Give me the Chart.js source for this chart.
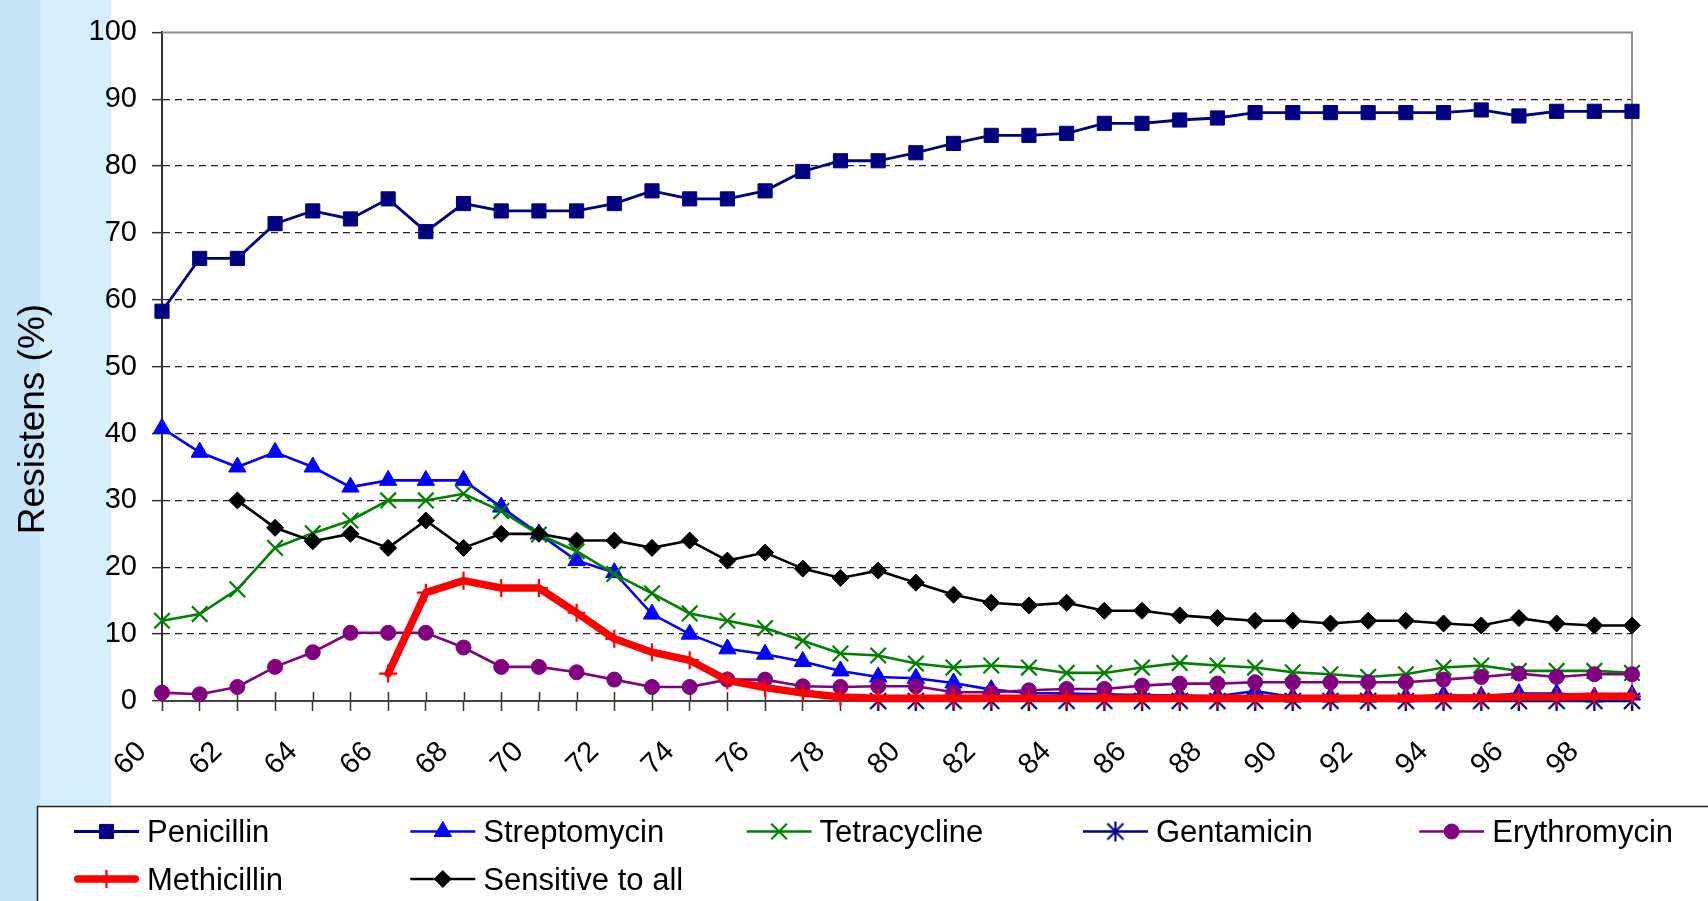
<!DOCTYPE html>
<html>
<head>
<meta charset="utf-8">
<title>Resistens</title>
<script src="https://cdn.jsdelivr.net/npm/chart.js@4/dist/chart.umd.min.js"></script>
<style>
  html, body { margin: 0; padding: 0; }
  body {
    width: 1708px;
    height: 901px;
    overflow: hidden;
    background: linear-gradient(to right, #c6e4f8 0, #c6e4f8 40px, #d7effb 40px, #d7effb 111px, #ffffff 111px);
  }
  canvas { display: block; }
</style>
</head>
<body>
<canvas id="resistChart" width="1708" height="901"></canvas>
<script>
const years = ['60', '61', '62', '63', '64', '65', '66', '67', '68', '69',
  '70', '71', '72', '73', '74', '75', '76', '77', '78', '79',
  '80', '81', '82', '83', '84', '85', '86', '87', '88', '89',
  '90', '91', '92', '93', '94', '95', '96', '97', '98', '99'];

const penicillin = [58.3, 66.2, 66.2, 71.4, 73.3, 72.1, 75.1, 70.2, 74.4, 73.3,
  73.3, 73.3, 74.4, 76.3, 75.1, 75.1, 76.3, 79.2, 80.8, 80.8,
  82.0, 83.4, 84.6, 84.6, 84.9, 86.4, 86.4, 86.9, 87.2, 88.0,
  88.0, 88.0, 88.0, 88.0, 88.0, 88.4, 87.5, 88.2, 88.2, 88.2];

const streptomycin = [40.8, 37.2, 35.0, 37.2, 35.0, 32.0, 33.0, 33.0, 33.0, 29.0,
  25.0, 21.0, 19.2, 13.0, 10.0, 7.8, 7.0, 5.9, 4.5, 3.6,
  3.4, 2.7, 1.7, 1.2, 1.1, 1.0, 0.9, 0.8, 0.7, 1.5,
  0.6, 0.6, 0.6, 0.6, 0.9, 0.7, 1.1, 1.1, 0.6, 0.9];

const tetracycline = [12.0, 13.0, 16.7, 22.9, 25.1, 27.0, 30.0, 30.0, 31.0, 28.4,
  24.9, 22.4, 19.0, 16.1, 13.1, 12.0, 10.9, 9.0, 7.1, 6.8,
  5.6, 5.0, 5.3, 5.0, 4.2, 4.2, 5.0, 5.7, 5.3, 5.0,
  4.3, 4.0, 3.6, 4.0, 5.0, 5.3, 4.5, 4.5, 4.5, 4.2];

const gentamicin = [null, null, null, null, null, null, null, null, null, null,
  null, null, null, null, null, null, null, null, null, 0,
  0, 0, 0, 0, 0, 0, 0, 0, 0, 0,
  0, 0, 0, 0, 0, 0, 0, 0, 0, 0];

const erythromycin = [1.25, 1.0, 2.1, 5.1, 7.3, 10.2, 10.2, 10.2, 8.0, 5.1,
  5.1, 4.3, 3.2, 2.1, 2.1, 3.2, 3.2, 2.2, 2.1, 2.2,
  2.2, 1.3, 1.3, 1.6, 1.8, 1.8, 2.3, 2.6, 2.6, 2.8,
  2.8, 2.8, 2.8, 2.8, 3.2, 3.6, 4.1, 3.6, 4.0, 4.0];

const methicillin = [null, null, null, null, null, null, 4.1, 16.2, 18.0, 16.9,
  16.9, 13.2, 9.3, 7.3, 6.1, 3.1, 2.0, 1.2, 0.6, 0.4,
  0.4, 0.4, 0.4, 0.4, 0.4, 0.4, 0.4, 0.4, 0.4, 0.4,
  0.4, 0.4, 0.4, 0.4, 0.4, 0.5, 0.6, 0.6, 0.7, 0.7];

const sensitive = [null, null, 30.0, 25.9, 23.9, 25.0, 22.9, 27.0, 22.9, 25.0,
  25.0, 24.0, 24.0, 22.9, 24.0, 21.0, 22.2, 19.8, 18.4, 19.5,
  17.7, 15.9, 14.7, 14.3, 14.7, 13.5, 13.5, 12.8, 12.4, 12.0,
  12.0, 11.6, 12.0, 12.0, 11.6, 11.3, 12.4, 11.6, 11.3, 11.3];

const yTicks = [0, 10, 20, 30, 40, 50, 60, 70, 80, 90, 100];
const yTitle = 'Resistens (%)';
const fontFamily = '"Liberation Sans", Arial, sans-serif';

// Excel style "star": an X with a vertical bar
function makeStar(color) {
    const c = document.createElement('canvas');
    c.width = 22;
    c.height = 22;
    const g = c.getContext('2d');
    g.strokeStyle = color;
    g.lineWidth = 2.2;
    g.beginPath();
    g.moveTo(3, 3); g.lineTo(19, 19);
    g.moveTo(19, 3); g.lineTo(3, 19);
    g.moveTo(11, 1); g.lineTo(11, 21);
    g.stroke();
    return c;
}

function series(label, data, color, style, radius, lineWidth, pointWidth, order) {
    return {
        label: label,
        data: data,
        borderColor: color,
        backgroundColor: color,
        borderWidth: lineWidth,
        pointStyle: style,
        pointRadius: radius,
        pointBackgroundColor: color,
        pointBorderColor: color,
        pointBorderWidth: pointWidth,
        pointHoverRadius: radius,
        tension: 0,
        clip: false,
        order: order
    };
}

const datasets = [
    series('Penicillin', penicillin, '#000080', 'rect', 10, 2.8, 1, 10),
    series('Streptomycin', streptomycin, '#0000ff', 'triangle', 10, 2.6, 1, 9),
    series('Tetracycline', tetracycline, '#008000', 'crossRot', 11, 2.6, 2.2, 8),
    series('Gentamicin', gentamicin, '#000080', makeStar('#000080'), 10, 2.6, 2, 7),
    series('Erythromycin', erythromycin, '#800080', 'circle', 7.5, 2.6, 1, 6),
    series('Methicillin', methicillin, '#ff0000', 'cross', 9, 7.5, 2.2, 5),
    series('Sensitive to all', sensitive, '#000000', 'rectRot', 8.5, 2.6, 1, 4)
];
datasets[5].borderCapStyle = 'round';
datasets[5].borderJoinStyle = 'round';

// legend slots: [dataset index, column, row]
const legendSlots = [[0, 0, 0], [1, 1, 0], [2, 2, 0], [3, 3, 0], [4, 4, 0], [5, 0, 1], [6, 1, 1]];

function drawMarker(ctx, ds, x, y) {
    ctx.fillStyle = ds.pointBackgroundColor;
    ctx.strokeStyle = ds.pointBorderColor;
    ctx.lineWidth = ds.pointBorderWidth;
    Chart.helpers.drawPoint(ctx, {
        pointStyle: ds.pointStyle,
        radius: ds.pointRadius,
        borderWidth: ds.pointBorderWidth,
        rotation: 0
    }, x, y);
}

const framePlugin = {
    id: 'frame',
    beforeDatasetsDraw(chart) {
        const ctx = chart.ctx;
        const area = chart.chartArea;
        const xScale = chart.scales.x;
        ctx.save();
        ctx.strokeStyle = '#8e8e8e';
        ctx.lineWidth = 2;
        ctx.beginPath();
        ctx.moveTo(area.left, area.top);
        ctx.lineTo(area.right, area.top);
        ctx.lineTo(area.right, area.bottom);
        ctx.stroke();

        // tick marks cross the category axis
        ctx.strokeStyle = '#333';
        ctx.lineWidth = 1.5;
        ctx.beginPath();
        xScale.ticks.forEach((t, i) => {
            const px = Math.round(xScale.getPixelForTick(i)) + 0.5;
            ctx.moveTo(px, area.bottom);
            ctx.lineTo(px, area.bottom - 9);
        });
        ctx.stroke();
        ctx.restore();
    },
    afterDraw(chart) {
        const ctx = chart.ctx;
        ctx.save();

        ctx.translate(44, 419);
        ctx.rotate(-Math.PI / 2);
        ctx.fillStyle = '#000';
        ctx.font = '37px ' + fontFamily;
        ctx.textAlign = 'center';
        ctx.textBaseline = 'alphabetic';
        ctx.fillText(yTitle, 0, 0);
        ctx.setTransform(1, 0, 0, 1, 0, 0);

        // legend box
        ctx.fillStyle = '#ffffff';
        ctx.fillRect(37, 806, 1708, 120);
        ctx.strokeStyle = '#222';
        ctx.lineWidth = 1.5;
        ctx.beginPath();
        ctx.moveTo(37.5, 920);
        ctx.lineTo(37.5, 806.5);
        ctx.lineTo(1720, 806.5);
        ctx.stroke();

        legendSlots.forEach(([idx, col, row]) => {
            const ds = chart.data.datasets[idx];
            const x0 = 74 + col * 336.3;
            const cy = row === 0 ? 831.5 : 879;
            const round = ds.borderCapStyle === 'round';
            const half = ds.borderWidth / 2;
            ctx.strokeStyle = ds.borderColor;
            ctx.lineWidth = ds.borderWidth;
            ctx.lineCap = round ? 'round' : 'butt';
            ctx.beginPath();
            ctx.moveTo(x0 + (round ? half : 0), cy);
            ctx.lineTo(x0 + 65 - (round ? half : 0), cy);
            ctx.stroke();
            ctx.lineCap = 'butt';
            drawMarker(ctx, ds, x0 + 32.5, cy);

            ctx.fillStyle = '#000';
            ctx.font = '31px ' + fontFamily;
            ctx.textAlign = 'left';
            ctx.textBaseline = 'alphabetic';
            ctx.fillText(ds.label, x0 + 73, cy + 10.5);
        });
        ctx.restore();
    }
};

new Chart(document.getElementById('resistChart'), {
    type: 'line',
    data: {
        labels: years,
        datasets: datasets
    },
    options: {
        responsive: false,
        animation: false,
        devicePixelRatio: 1,
        layout: {
            padding: { left: 0, right: 76, top: 28, bottom: 0 }
        },
        plugins: {
            legend: { display: false },
            tooltip: { enabled: false }
        },
        scales: {
            x: {
                type: 'category',
                offset: false,
                afterFit: function (scale) { scale.height = 200; },
                grid: {
                    display: true,
                    drawOnChartArea: false,
                    drawTicks: true,
                    tickLength: 10,
                    tickColor: '#333',
                    tickWidth: 1.5
                },
                border: { display: true, color: '#444', width: 2 },
                ticks: {
                    autoSkip: false,
                    minRotation: 45,
                    maxRotation: 45,
                    padding: 24,
                    labelOffset: -20,
                    color: '#000',
                    font: { family: fontFamily, size: 29 },
                    callback: function (value, index) {
                        return index % 2 === 0 ? years[index] : '';
                    }
                }
            },
            y: {
                min: yTicks[0],
                max: yTicks[yTicks.length - 1],
                afterFit: function (scale) { scale.width = 162; },
                afterBuildTicks: function (scale) {
                    scale.ticks = yTicks.map(v => ({ value: v }));
                },
                ticks: {
                    padding: 15,
                    color: '#000',
                    font: { family: fontFamily, size: 29 }
                },
                grid: {
                    color: function (ctx) {
                        const v = ctx.tick ? ctx.tick.value : null;
                        return (v === 0 || v === 100) ? 'rgba(0,0,0,0)' : '#222';
                    },
                    lineWidth: 1.3,
                    tickLength: 10,
                    tickColor: '#333',
                    tickWidth: 1.5,
                    tickBorderDash: []
                },
                border: { display: true, color: '#333', width: 2, dash: [7, 5] }
            }
        }
    },
    plugins: [framePlugin]
});
</script>
</body>
</html>
